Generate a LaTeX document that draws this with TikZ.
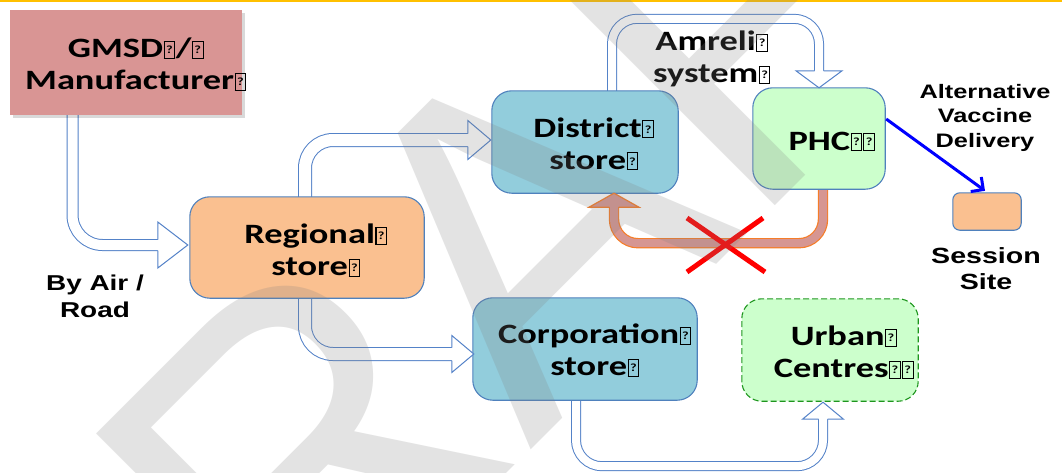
\documentclass[tikz,border=0pt]{standalone}
\usepackage{fontspec}
\usetikzlibrary{calc,arrows.meta}
\newfontfamily\calfont[FakeStretch=1.3]{Carlito}
\newfontfamily\arifont[FakeStretch=1.3]{Liberation Sans}
\newfontfamily\wmfont{Liberation Sans}
\definecolor{gmsdpink}{RGB}{217,149,148}
\definecolor{orfill}{RGB}{250,192,144}
\definecolor{bluefill}{RGB}{146,205,220}
\definecolor{greenfill}{RGB}{204,255,204}
\definecolor{boxblue}{RGB}{79,129,189}
\definecolor{arrblue}{RGB}{84,130,200}
\definecolor{urbgreen}{RGB}{30,150,30}
\definecolor{orline}{RGB}{246,125,40}
\definecolor{orpink}{RGB}{214,150,146}
\definecolor{pureblue}{RGB}{0,0,255}
\definecolor{purered}{RGB}{255,0,0}
\definecolor{topyellow}{RGB}{255,192,0}
\newcommand\tofu{\kern0.5pt{\fboxsep=0pt\fboxrule=1.1pt\fbox{\vbox to 16pt{\vss\hbox to 9.5pt{\hss\fontsize{11}{11}\selectfont ?\hss}\vss}}}\kern0.5pt}
\tikzset{
  box/.style={draw=boxblue, line width=1.1pt, rounded corners=20pt, inner sep=0pt},
  btext/.style={font=\calfont\bfseries\fontsize{28}{32}\selectfont, align=center, inner sep=0pt},
  atext/.style={font=\arifont\bfseries\fontsize{21.5}{27}\selectfont, align=center, inner sep=0pt},
  tube/.style={draw=arrblue, line width=1pt, double=white, rounded corners=26pt},
  bhead/.style={draw=arrblue, line width=1pt, fill=white, line join=miter},
  otube/.style={draw=orline, line width=1.2pt, double=orpink, double distance=8pt, rounded corners=24pt},
  ohead/.style={draw=orline, line width=1.2pt, fill=orpink, line join=miter},
}
\begin{document}
\begin{tikzpicture}[x=1pt,y=-1pt]
\useasboundingbox (0,0) rectangle (1062,472);
\begin{scope}
\clip (0,0) rectangle (1062,472);
\fill[white] (0,0) rectangle (1062,472);
\draw[line width=2.5pt, topyellow] (0,1) -- (1062,1);

% box nodes (anchors)
\path
  (126,62.5) node[minimum width=232pt, minimum height=105pt, inner sep=0pt] (gmsd) {}
  (307,247.5) node[minimum width=234pt, minimum height=101pt, inner sep=0pt] (regional) {}
  (585,142) node[minimum width=186pt, minimum height=102pt, inner sep=0pt] (district) {}
  (819,138.5) node[minimum width=132pt, minimum height=101pt, inner sep=0pt] (phc) {}
  (987,211.5) node[minimum width=68pt, minimum height=37pt, inner sep=0pt] (session) {}
  (585,349) node[minimum width=224pt, minimum height=102pt, inner sep=0pt] (corp) {}
  (830,350) node[minimum width=176pt, minimum height=102pt, inner sep=0pt] (urban) {};

% arrow tips
\coordinate (t1) at ($(regional.west)+(-2,-2.5)$);
\coordinate (t2) at ($(district.west)+(-1,-2)$);
\coordinate (t3) at (phc.north);
\coordinate (t4) at ($(corp.west)+(1,5)$);
\coordinate (t5) at ($(urban.south)+(-7,1)$);
\coordinate (t6) at ($(district.south)+(29,0)$);

% tubes
\draw[tube, double distance=10pt, rounded corners=30pt] ($(gmsd.south)+(-53.5,0)$) |- ($(t1)+(-29,0)$);
\draw[tube, double distance=12pt, rounded corners=28pt] ($(regional.north)+(-2,0)$) |- ($(t2)+(-22,0)$);
\draw[tube, double distance=8pt, rounded corners=25pt] ($(district.north)+(27,0)$) |- ($(t3)+(0,-69)$) -- ($(t3)+(0,-16)$);
\draw[tube, double distance=12pt, rounded corners=28pt] ($(regional.south)+(-2,0)$) |- ($(t4)+(-21,0)$);
\draw[tube, double distance=8pt, rounded corners=26pt] ($(corp.south)+(-9,0)$) |- ($(t5)+(0,64)$) -- ($(t5)+(0,16)$);
\draw[otube] ($(phc.south)+(4,0)$) |- ($(t6)+(0,50)$) -- ($(t6)+(0,13)$);

% boxes
\fill[black, opacity=0.15] ($(gmsd.south west)+(3,3)$) rectangle ($(gmsd.north east)+(3,3)$);
\fill[gmsdpink] (gmsd.south west) rectangle (gmsd.north east);
\path[box, fill=orfill] (regional.south west) rectangle (regional.north east);
\path[box, fill=bluefill] (district.south west) rectangle (district.north east);
\path[box, fill=greenfill] (phc.south west) rectangle (phc.north east);
\path[box, fill=orfill, rounded corners=7pt] (session.south west) rectangle (session.north east);
\path[box, fill=bluefill] (corp.south west) rectangle (corp.north east);
\path[box, fill=greenfill, draw=urbgreen, dash pattern=on 6pt off 3pt] (urban.south west) rectangle (urban.north east);

% heads
\path[bhead] ($(t1)+(-30,-5.5)$) -- ($(t1)+(-30,-23)$) -- (t1) -- ($(t1)+(-30,23)$) -- ($(t1)+(-30,5.5)$);
\path[bhead] ($(t2)+(-23,-6.5)$) -- ($(t2)+(-23,-19.5)$) -- (t2) -- ($(t2)+(-23,19.5)$) -- ($(t2)+(-23,6.5)$);
\path[bhead] ($(t3)+(-4.5,-17)$) -- ($(t3)+(-23,-17)$) -- (t3) -- ($(t3)+(23,-17)$) -- ($(t3)+(4.5,-17)$);
\path[bhead] ($(t4)+(-22,-6.5)$) -- ($(t4)+(-22,-18.5)$) -- (t4) -- ($(t4)+(-22,18.5)$) -- ($(t4)+(-22,6.5)$);
\path[bhead] ($(t5)+(-4.5,17)$) -- ($(t5)+(-20.5,17)$) -- (t5) -- ($(t5)+(20.5,17)$) -- ($(t5)+(4.5,17)$);
\path[ohead] ($(t6)+(-4.6,14)$) -- ($(t6)+(-25,14)$) -- (t6) -- ($(t6)+(25,14)$) -- ($(t6)+(4.6,14)$);

% red cross
\draw[purered, line width=5pt] (687,218) -- (765,272);
\draw[purered, line width=5pt] (763,218) -- (687,272);

% blue arrow
\draw[pureblue, line width=3pt, -{Straight Barb[length=9pt,width=18pt,line width=3pt]}] ($(phc.east)+(1,-19.5)$) -- ($(session.north)+(-2,-2)$);

% texts
\node[btext] (gmsdt) at (136,64.5) {GMSD\tofu/\tofu\\Manufacturer\tofu};
\node[btext] (regt) at (316,250.5) {Regional\tofu\\store\tofu};
\node[btext] (distt) at (594,144) {District\tofu\\store\tofu};
\node[btext] (amr) at (712,59) {Amreli\tofu\\system\tofu};
\node[btext, anchor=base] (phct) at (832,150) {PHC\tofu\tofu};
\node[btext] (corpt) at (595,350.5) {Corporation\tofu\\store\tofu};
\node[btext] (urbt) at (844,352.5) {Urban\tofu\\Centres\tofu\tofu};
\node[atext] (byair) at (95,296) {By Air /\\Road};
\node[atext, font=\arifont\bfseries\fontsize{19.5}{24.5}\selectfont] (alt) at (985,117.5) {Alternative\\Vaccine\\Delivery};
\node[atext, font=\arifont\bfseries\fontsize{22}{26}\selectfont] (sess) at (986,269) {Session\\Site};

% watermark
\node[rotate=45, font=\wmfont\fontsize{462}{462}\selectfont, text=black!50, text opacity=0.22, inner sep=0pt] (wm) at (491,265) {DRAFT};
\end{scope}
\end{tikzpicture}
\end{document}
